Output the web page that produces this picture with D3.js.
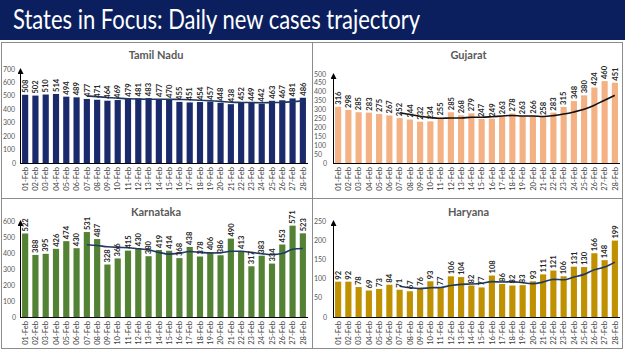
<!DOCTYPE html>
<html>
<head>
<meta charset="UTF-8">
<script src="https://d3js.org/d3.v7.min.js"></script>
<style>
  body { margin: 0; background: #fff; }
  svg { display: block; }
  text { font-family: Lato, "Open Sans", sans-serif; }
</style>
</head>
<body>
<svg id="chart" width="625" height="351"></svg>
<script>
// data
const days = d3.range(1, 29).map(d => (d < 10 ? "0" + d : "" + d) + "-Feb");

const tnCases = [508, 502, 510, 514, 494, 489, 477, 471, 464, 469, 479, 481, 483, 477, 470, 455, 451, 454, 457, 448, 438, 452, 449, 442, 463, 467, 481, 486];
const tnTrend = [499, 494, 488, 483, 478, 476, 475, 475, 475, 473, 471, 467, 464, 459, 453, 451, 450, 449, 450, 451, 456, 463];

const gjCases = [316, 298, 285, 283, 275, 267, 252, 244, 232, 234, 255, 285, 268, 279, 247, 249, 263, 278, 263, 266, 258, 283, 315, 348, 380, 424, 460, 451];
const gjTrend = [282, 272, 263, 255, 251, 253, 253, 257, 257, 260, 264, 267, 264, 264, 261, 266, 275, 287, 302, 325, 353, 380];

const kaCases = [522, 388, 395, 426, 474, 430, 531, 487, 328, 366, 415, 430, 380, 419, 414, 368, 438, 378, 406, 386, 490, 413, 317, 383, 334, 453, 571, 523];
const kaTrend = [452, 447, 439, 435, 433, 427, 420, 404, 393, 399, 409, 404, 400, 401, 411, 411, 404, 396, 390, 397, 423, 428];

const hrCases = [92, 92, 78, 69, 73, 84, 71, 67, 76, 93, 77, 106, 104, 82, 77, 108, 86, 82, 83, 93, 111, 121, 106, 131, 130, 166, 148, 199];
const hrTrend = [80, 76, 74, 76, 77, 82, 85, 86, 88, 92, 91, 92, 89, 87, 91, 98, 97, 104, 111, 123, 130, 143];

const panels = [
  { name: "Tamil Nadu", cases: tnCases, trend: tnTrend, max: 700, step: 100, color: "#1b2a6b", line: "#1f3864",
    x0: 20, x1: 308, y0: 163, yTop: 69, titleY: 59, tickX: 3 },
  { name: "Gujarat", cases: gjCases, trend: gjTrend, max: 500, step: 50, color: "#f4b183", line: "#111111",
    x0: 333, x1: 620, y0: 163, yTop: 74, titleY: 59, tickX: 314 },
  { name: "Karnataka", cases: kaCases, trend: kaTrend, max: 600, step: 100, color: "#548235", line: "#1f3864",
    x0: 20, x1: 308, y0: 317, yTop: 221, titleY: 216, tickX: 3 },
  { name: "Haryana", cases: hrCases, trend: hrTrend, max: 250, step: 50, color: "#bf9000", line: "#1f3864",
    x0: 333, x1: 620, y0: 317, yTop: 221, titleY: 216, tickX: 314 }
];

const svg = d3.select("#chart");

// title bar
svg.append("rect").attr("x", 0).attr("y", 0).attr("width", 625).attr("height", 40).attr("fill", "#0b1f5e");
svg.append("text")
  .attr("x", 13).attr("y", 29)
  .attr("fill", "#fff")
  .attr("font-size", 27)
  .attr("textLength", 407)
  .attr("lengthAdjust", "spacingAndGlyphs")
  .text("States in Focus: Daily new cases trajectory");

// frame
const frame = svg.append("g").attr("stroke", "#8c8c8c").attr("fill", "none").attr("stroke-width", 1);
frame.append("rect").attr("x", 1.5).attr("y", 42.5).attr("width", 621).attr("height", 306);
frame.append("line").attr("x1", 312.5).attr("x2", 312.5).attr("y1", 42).attr("y2", 349);
frame.append("line").attr("x1", 1).attr("x2", 623).attr("y1", 198.5).attr("y2", 198.5);

const defs = svg.append("defs");
defs.append("marker")
  .attr("id", "arrow")
  .attr("viewBox", "0 0 10 10")
  .attr("refX", 5).attr("refY", 5)
  .attr("markerWidth", 6).attr("markerHeight", 6)
  .attr("orient", "auto")
  .append("path").attr("d", "M0,0 L10,5 L0,10 z").attr("fill", "#000");

panels.forEach(p => {
  const g = svg.append("g");

  const x = d3.scaleBand(days, [p.x0, p.x1]).paddingInner(0.4).paddingOuter(0.2);
  const y = d3.scaleLinear([0, p.max], [p.y0, p.yTop]);

  // panel title
  g.append("text")
    .attr("x", (p.x0 + p.x1) / 2 - 8).attr("y", p.titleY)
    .attr("text-anchor", "middle")
    .attr("font-size", 11).attr("font-weight", "bold")
    .attr("fill", "#595959")
    .text(p.name);

  // y tick labels
  g.selectAll(".ytick").data(d3.range(0, p.max + 1, p.step)).join("text")
    .attr("class", "ytick")
    .attr("x", d => d === 0 ? p.tickX + 9 : p.tickX)
    .attr("y", d => y(d) + 2.5)
    .attr("font-size", 7)
    .attr("fill", "#595959")
    .text(d => d);

  // bars
  g.selectAll(".bar").data(p.cases).join("rect")
    .attr("class", "bar")
    .attr("x", (d, i) => x(days[i]))
    .attr("y", d => y(d))
    .attr("width", x.bandwidth())
    .attr("height", d => p.y0 - y(d))
    .attr("fill", p.color);

  // axes
  g.append("line")
    .attr("x1", p.x0).attr("x2", p.x1)
    .attr("y1", p.y0 + 0.5).attr("y2", p.y0 + 0.5)
    .attr("stroke", "#000").attr("stroke-width", 1);
  g.append("line")
    .attr("x1", p.x0 + 0.5).attr("x2", p.x0 + 0.5)
    .attr("y1", p.y0 + 0.5).attr("y2", p.yTop + 2)
    .attr("stroke", "#000").attr("stroke-width", 1)
    .attr("marker-end", "url(#arrow)");

  // x labels
  g.selectAll(".xlab").data(days).join("text")
    .attr("class", "xlab")
    .attr("transform", d => `translate(${x(d) + x.bandwidth() / 2 + 2.7},${p.y0 + 4}) rotate(-90)`)
    .attr("text-anchor", "end")
    .attr("font-size", 7.6)
    .attr("fill", "#404040")
    .text(d => d);

  // trend line (7-day average, from 07-Feb)
  const line = d3.line()
    .x((d, i) => x(days[i + 6]) + x.bandwidth() / 2)
    .y(d => y(d))
    .curve(d3.curveMonotoneX);
  g.append("path")
    .attr("d", line(p.trend))
    .attr("fill", "none")
    .attr("stroke", p.line)
    .attr("stroke-width", 1.6);

  // value labels
  g.selectAll(".val").data(p.cases).join("text")
    .attr("class", "val")
    .attr("transform", (d, i) => `translate(${x(days[i]) + x.bandwidth() / 2 + 2.7},${y(d) - 2}) rotate(-90)`)
    .attr("font-size", 7.6).attr("font-weight", "bold")
    .attr("fill", "#262626")
    .text(d => d);
});
</script>
</body>
</html>
